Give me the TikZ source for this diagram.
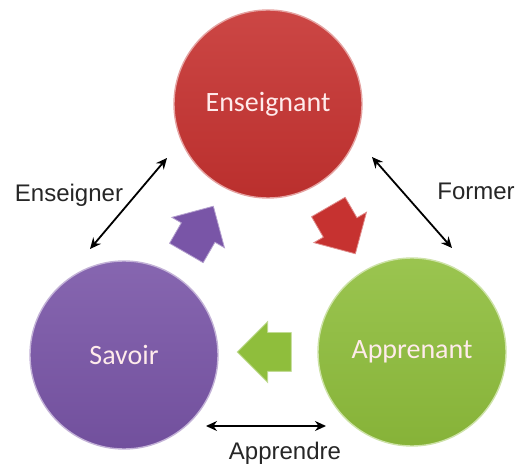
\documentclass[tikz,border=0pt]{standalone}
\usepackage{fontspec}
\setmainfont{Liberation Sans}
\newfontfamily\discfont{Carlito}
\usepackage{xcolor}
\usepackage{tikz}
\usetikzlibrary{arrows.meta}
\usetikzlibrary{shapes}
\definecolor{ensred}{RGB}{198,50,48}
\definecolor{savpurple}{RGB}{121,85,167}
\definecolor{apgreen}{RGB}{143,190,60}
\begin{document}
\begin{tikzpicture} [x=1pt, y=1pt,
                disc/.style = {circle, minimum size=188pt, inner sep=0pt, line width=1.4pt, text=white!92!red, font=\discfont\fontsize{28}{32}\selectfont},
                flow/.style = {single arrow, minimum height=54pt, inner xsep=0pt, inner ysep=19pt, single arrow head extend=11pt, line width=0.8pt},
                link/.style = {{Stealth[length=11pt,width=10pt]}-{Stealth[length=11pt,width=10pt]}, line width=1.8pt},
                tag/.style = {anchor=base, font=\fontsize{24}{28}\selectfont, text=black!85}
            ]
            \useasboundingbox (0,0) rectangle (518,465);
            \node (ens) at (268, 361) [disc, top color=ensred!90!white, bottom color=ensred!94!black, draw=ensred!45!white] {Enseignant};
            \node (sav) at (124, 110) [disc, top color=savpurple!90!white, bottom color=savpurple!94!black, draw=savpurple!45!white] {Savoir};
            \node (app) at (412, 113) [disc, top color=apgreen!90!white, bottom color=apgreen!94!black, draw=apgreen!45!white] {Apprenant};
            \node (fsav) at (195, 227) [flow, rotate=60, fill=savpurple, draw=savpurple!55!white] {};
            \node (fens) at (337, 243) [flow, rotate=-60, fill=ensred, draw=ensred!55!white] {};
            \node (fapp) at (274, 113) [flow, rotate=180, fill=apgreen, draw=apgreen!55!white] {};
            \coordinate (en1) at (167, 307);
            \coordinate (en2) at (90, 216);
            \coordinate (fo1) at (372, 308);
            \coordinate (fo2) at (452, 217);
            \coordinate (ap1) at (206, 39);
            \coordinate (ap2) at (326, 39);
            \draw [link] (en1) -- (en2);
            \draw [link] (fo1) -- (fo2);
            \draw [link] (ap1) -- (ap2);
            \node (ten) at (69, 263) [tag] {Enseigner};
            \node (tfo) at (476, 265) [tag] {Former};
            \node (tap) at (285, 6) [tag] {Apprendre};
        \end{tikzpicture}
\end{document}
